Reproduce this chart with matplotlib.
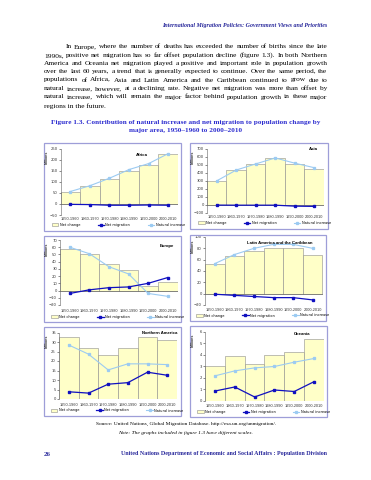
"""Figure 1.3 page: natural increase and net migration by major area
"""
import matplotlib.pyplot as plt
from matplotlib.patches import Rectangle, Patch
from matplotlib.lines import Line2D

# data (millions)
periods = ['1950-1960', '1960-1970', '1970-1980', '1980-1990', '1990-2000', '2000-2010']
series_names = ['Net change', 'Net migration', 'Natural increase']

africa_change = [53, 80, 111, 150, 177, 223]
africa_migration = [-2, -3, -6, -6, -5, -6]
africa_natural = [56, 82, 116, 155, 182, 227]

asia_change = [297, 430, 505, 578, 503, 444]
asia_migration = [-2, -3, -3, -3, -15, -18]
asia_natural = [299, 433, 509, 583, 518, 462]

europe_change = [57, 51, 37, 28, 6, 12]
europe_migration = [-4, 1, 4, 5, 10, 18]
europe_natural = [60, 51, 33, 23, -4, -8]

latin_change = [52, 66, 75, 80, 80, 69]
latin_migration = [-1, -3, -5, -7, -7, -11]
latin_natural = [53, 69, 80, 87, 87, 80]

namerica_change = [32.4, 26.8, 23.1, 27.1, 32.7, 31.0]
namerica_migration = [3.8, 3.1, 7.8, 8.6, 14.1, 12.5]
namerica_natural = [28.4, 23.6, 15.3, 18.5, 18.5, 18.1]

oceania_change = [3.05, 3.88, 3.18, 3.97, 4.2, 5.36]
oceania_migration = [0.86, 1.21, 0.35, 0.95, 0.82, 1.67]
oceania_natural = [2.17, 2.6, 2.86, 2.98, 3.35, 3.67]

# page text
header = 'International Migration Policies: Government Views and Priorities'
paragraph = [
    'In Europe, where the number of deaths has exceeded the number of births since the late',
    '1990s, positive net migration has so far offset population decline (figure 1.3). In both Northern',
    'America and Oceania net migration played a positive and important role in population growth',
    'over the last 60 years, a trend that is generally expected to continue. Over the same period, the',
    'populations of Africa, Asia and Latin America and the Caribbean continued to grow due to',
    'natural increase, however, at a declining rate. Negative net migration was more than offset by',
    'natural increase, which will remain the major factor behind population growth in these major',
    'regions in the future.',
]
fig_title = ['Figure 1.3. Contribution of natural increase and net migration to population change by',
             'major area, 1950\u20131960 to 2000\u20132010']
source = 'Source: United Nations, Global Migration Database. http://esa.un.org/unmigration/.'
note = 'Note: The graphs included in figure 1.3 have different scales.'
footer = 'United Nations Department of Economic and Social Affairs : Population Division'

W, H = 371, 480
SERIF = 'Liberation Serif'
SANS = 'Liberation Sans'
BAR_C = '#FFFFC8'
MIG_C = '#1010C0'
NAT_C = '#9CCBF2'
BOX_C = '#9E9ED8'

fig = plt.figure(figsize=(3.71, 4.8), dpi=100)
renderer = fig.canvas.get_renderer()


def fx(x):
    return x / W


def fy(y):
    return 1 - y / H


def text_width(t):
    return t.get_window_extent(renderer=renderer).width


def fit_text(x, y, s, width, ha='left', **kw):
    """place text and scale its size so it spans `width` pixels"""
    t = fig.text(fx(x), fy(y), s, ha=ha, va='center', fontsize=10, **kw)
    t.set_fontsize(10 * width / text_width(t))
    return t


def justify(words, x0, x1, y, size, **kw):
    arts = [fig.text(0, fy(y), w, va='center', fontsize=size, **kw) for w in words]
    widths = [text_width(a) for a in arts]
    gap = (x1 - x0 - sum(widths)) / max(len(words) - 1, 1)
    x = x0
    for a, w in zip(arts, widths):
        a.set_x(fx(x))
        x += w + gap


# header
fit_text(327, 25, header, 168, ha='right', family=SERIF, weight='bold',
         style='italic', color='#2A2A9C')

# body paragraph, justified except the last line
line_y = [47, 55.5, 63.5, 71.5, 80, 88.5, 97, 106]
body_size = 5.3
fig.text(fx(44), fy(line_y[-1]), paragraph[-1], va='center', fontsize=body_size,
         family=SERIF)
for i, (line, y) in enumerate(zip(paragraph[:-1], line_y[:-1])):
    x0 = 66 if i == 0 else 44
    justify(line.split(' '), x0, 327.5, y, body_size, family=SERIF)

# figure title
fit_text(185.5, 122.5, fig_title[0], 270, ha='center', family=SERIF,
         weight='bold', color='#2E2ED0')
fit_text(185.5, 130.5, fig_title[1], 113, ha='center', family=SERIF,
         weight='bold', color='#2E2ED0')

# panels: (title, data, ylim, step, box, plot area, title pos, label y, legend y)
panels = [
    ('Africa', africa_change, africa_migration, africa_natural, (-50, 250), 50,
     (44, 143, 181, 231), (60.5, 148.5, 178, 215), (142, 155, 'center'), 219.5, 225),
    ('Asia', asia_change, asia_migration, asia_natural, (-100, 700), 100,
     (190, 143, 328, 229), (207, 148.5, 324, 213), (313, 149.5, 'center'), 217.5, 223),
    ('Europe', europe_change, europe_migration, europe_natural, (-20, 70), 10,
     (44, 236, 181, 322), (60, 240, 177.5, 305), (167, 246, 'center'), 311, 317),
    ('Latin America and the Caribbean', latin_change, latin_migration, latin_natural,
     (-20, 100), 20,
     (190, 235, 326, 321), (205, 237, 322.5, 305), (280, 242.5, 'center'), 310, 315.5),
    ('Northern America', namerica_change, namerica_migration, namerica_natural,
     (0, 35), 5,
     (44, 327, 181, 416), (59, 332.5, 177, 399), (177, 332.5, 'right'), 405, 410.5),
    ('Oceania', oceania_change, oceania_migration, oceania_natural, (0, 6), 1,
     (190, 326, 327, 417), (205, 331.5, 324, 401), (302, 334, 'center'), 406, 412),
]

xs = list(range(len(periods)))
for (name, change, migration, natural, ylim, step, box, area, tpos,
     label_y, legend_y) in panels:
    bx0, by0, bx1, by1 = box
    fig.add_artist(Rectangle((fx(bx0), fy(by1)), (bx1 - bx0) / W, (by1 - by0) / H,
                             transform=fig.transFigure, fill=False,
                             edgecolor=BOX_C, lw=0.9))
    l, t, r, b = area
    ax = fig.add_axes([fx(l), fy(b), (r - l) / W, (b - t) / H])
    ax.bar(xs, change, width=1, color=BAR_C, edgecolor='#8C8C8C', lw=0.4, zorder=1)
    ax.axhline(0, color='#555555', lw=0.4, zorder=2)
    ax.plot(xs, natural, color=NAT_C, lw=0.8, marker='s', ms=1.4, zorder=3)
    ax.plot(xs, migration, color=MIG_C, lw=0.9, marker='s', ms=1.6, zorder=4)
    ax.set_xlim(-0.5, len(periods) - 0.5)
    ax.set_ylim(*ylim)
    ax.set_yticks(list(range(ylim[0], ylim[1] + 1, step)))
    ax.tick_params(axis='y', labelsize=2.7, length=1.2, width=0.4, pad=1,
                   colors='#333333')
    ax.set_xticks([])
    for s in ('top', 'right', 'bottom'):
        ax.spines[s].set_visible(False)
    ax.spines['left'].set_linewidth(0.4)
    ax.spines['left'].set_color('#666666')
    for i, p in enumerate(periods):
        fig.text(fx(l + (r - l) * (i + 0.5) / len(periods)), fy(label_y), p,
                 ha='center', va='center', fontsize=2.8, family=SANS, color='#333333')
    fig.text(fx(tpos[0]), fy(tpos[1]), name, ha=tpos[2], va='center',
             fontsize=3.1, family=SANS, weight='bold')
    fig.text(fx(bx0 + 3), fy(t + 9), 'Millions', rotation=90, ha='center',
             va='center', fontsize=2.6, family=SANS, weight='bold', color='#333333')
    handles = [Patch(facecolor=BAR_C, edgecolor='#8C8C8C', lw=0.4),
               Line2D([], [], color=MIG_C, lw=0.9, marker='s', ms=1.6),
               Line2D([], [], color=NAT_C, lw=0.8, marker='s', ms=1.4)]
    fig.legend(handles, series_names, loc='center',
               bbox_to_anchor=(fx((l + r) / 2 - 1), fy(legend_y)), ncol=3,
               fontsize=2.5, frameon=False, handlelength=1.9, handleheight=0.8,
               columnspacing=5.0, handletextpad=0.4, borderpad=0)

# source, note, footer
fit_text(186, 424, source, 181, ha='center', family=SERIF)
fit_text(185, 433, note, 134, ha='center', family=SERIF, style='italic')
fig.text(fx(44), fy(454), '26', va='center', fontsize=5.0, family=SERIF,
         weight='bold', color='#2A2A9C')
fit_text(327, 454, footer, 209, ha='right', family=SERIF, weight='bold',
         color='#2A2A9C')

fig.savefig('out.png', dpi=100)
